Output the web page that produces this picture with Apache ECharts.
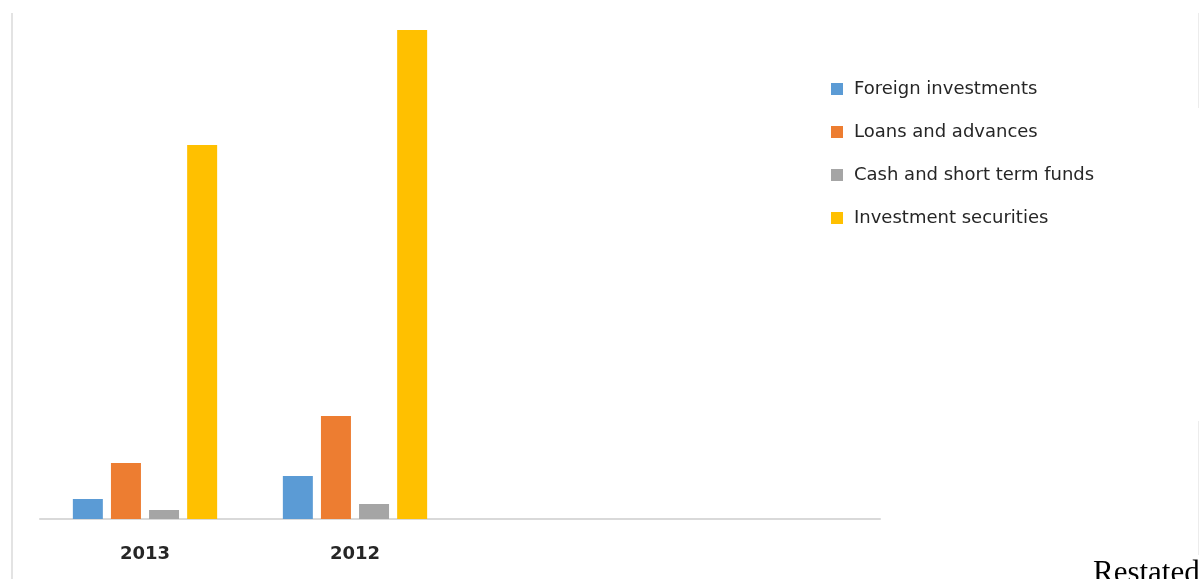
<!DOCTYPE html>
<html>
<head>
<meta charset="utf-8">
<script src="https://cdn.jsdelivr.net/npm/echarts@6/dist/echarts.min.js"></script>
<style>
html,body{margin:0;padding:0;background:#fff;}
#c{width:1200px;height:579px;}
</style>
</head>
<body>
<div id="c"></div>
<script>
const categories = ['2013', '2012', '', ''];
const seriesNames = ['Foreign investments', 'Loans and advances', 'Cash and short term funds', 'Investment securities'];
const foreignInvestments = [20, 43];
const loansAndAdvances = [56, 103];
const cashAndShortTermFunds = [9, 15];
const investmentSecurities = [374, 489];
const colors = ['#5b9bd5', '#ed7d31', '#a5a5a5', '#ffc000'];

const dataSets = [foreignInvestments, loansAndAdvances, cashAndShortTermFunds, investmentSecurities];

const chart = echarts.init(document.getElementById('c'), null, {renderer: 'canvas'});
chart.setOption({
  animation: false,
  backgroundColor: '#ffffff',
  grid: {left: 40, right: 320, top: 19, bottom: 60, containLabel: false},
  legend: {
    orient: 'vertical',
    left: 826,
    top: 75,
    itemWidth: 12,
    itemHeight: 12,
    itemGap: 25,
    icon: 'rect',
    textStyle: {fontFamily: 'DejaVu Sans', fontSize: 18, color: '#262626', padding: [0, 0, 0, 6]},
    data: seriesNames
  },
  xAxis: {
    type: 'category',
    data: categories,
    axisLine: {show: true, lineStyle: {color: '#d9d9d9', width: 2}},
    axisTick: {show: false},
    axisLabel: {fontFamily: 'DejaVu Sans', fontWeight: 'bold', fontSize: 18, color: '#262626', margin: 26}
  },
  yAxis: {
    type: 'value',
    min: 0,
    max: 500,
    show: false,
    splitLine: {show: false}
  },
  series: dataSets.map((d, i) => ({
    name: seriesNames[i],
    type: 'bar',
    data: d,
    barWidth: 30,
    barGap: '27%',
    itemStyle: {color: colors[i]}
  })),
  graphic: [
    {type: 'rect', shape: {x: 11, y: 13, width: 2, height: 566}, style: {fill: '#e3e3e3'}},
    {type: 'rect', shape: {x: 1198, y: 13, width: 1, height: 95}, style: {fill: '#ececec'}},
    {type: 'rect', shape: {x: 1198, y: 421, width: 1, height: 134}, style: {fill: '#ececec'}},
    {type: 'text', left: 1093, top: 558, style: {text: 'Restated', fontFamily: 'Liberation Serif', fontSize: 31, fill: '#000'}}
  ]
});
</script>
</body>
</html>
